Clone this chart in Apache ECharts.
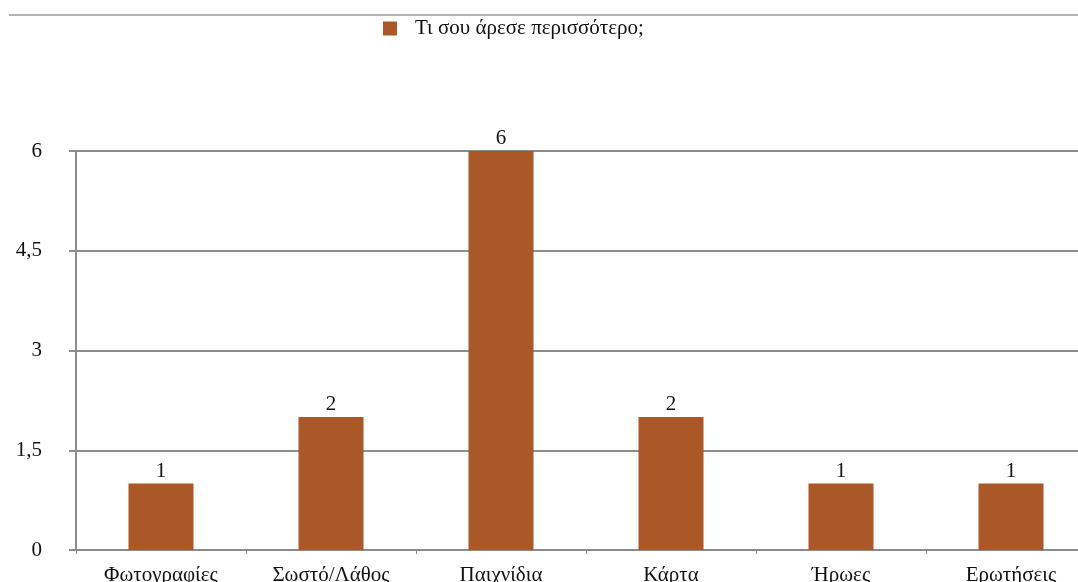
<!DOCTYPE html>
<html><head><meta charset="utf-8">
<script src="https://cdn.jsdelivr.net/npm/echarts@6/dist/echarts.min.js"></script>
<style>html,body{margin:0;padding:0;background:#fff;overflow:hidden}#c{width:1078px;height:582px}</style>
</head><body><div id="c"></div>
<script>
const categories = ["Φωτογραφίες","Σωστό/Λάθος","Παιχνίδια","Κάρτα","Ήρωες","Ερωτήσεις"];
const values = [1,2,6,2,1,1];
const seriesName = "Τι σου άρεσε περισσότερο;";
const yTicks = [0,1.5,3,4.5,6];
const yTickLabels = ["0","1,5","3","4,5","6"];

const font = "Liberation Serif";
const fs = 21;
const chart = echarts.init(document.getElementById('c'));
chart.setOption({
  animation:false,
  textStyle:{fontFamily:font},
  graphic:[{type:'line',shape:{x1:9,y1:15,x2:1078,y2:15},style:{stroke:'#b4b4b4',lineWidth:2}}],
  legend:{left:378,top:13,itemWidth:14,itemHeight:14,icon:'rect',
    textStyle:{fontFamily:font,fontSize:fs,color:'#111',padding:[0,0,0,13]},
    data:[seriesName]},
  grid:{left:76,top:151,width:1020,height:399,containLabel:false,outerBoundsMode:'none'},
  xAxis:{type:'category',data:categories,
    axisLine:{lineStyle:{color:'#8c8c8c',width:2}},
    axisTick:{show:true,length:4,lineStyle:{color:'#8c8c8c',width:1}},
    axisLabel:{fontFamily:font,fontSize:fs,color:'#111',margin:15,interval:0}},
  yAxis:{type:'value',min:0,max:6,interval:1.5,
    axisLine:{show:true,lineStyle:{color:'#8c8c8c',width:2}},
    axisTick:{show:true,length:7,lineStyle:{color:'#8c8c8c',width:2}},
    splitLine:{lineStyle:{color:'#8c8c8c',width:2}},
    axisLabel:{fontFamily:font,fontSize:fs,color:'#111',margin:34,
      formatter:function(v){const i=yTicks.indexOf(v);return i>=0?yTickLabels[i]:String(v);}}},
  series:[{name:seriesName,type:'bar',data:values,barWidth:65,
    itemStyle:{color:'#AA5827'},
    label:{show:true,position:'top',distance:2,fontFamily:font,fontSize:fs,color:'#111'}}]
});
</script></body></html>
